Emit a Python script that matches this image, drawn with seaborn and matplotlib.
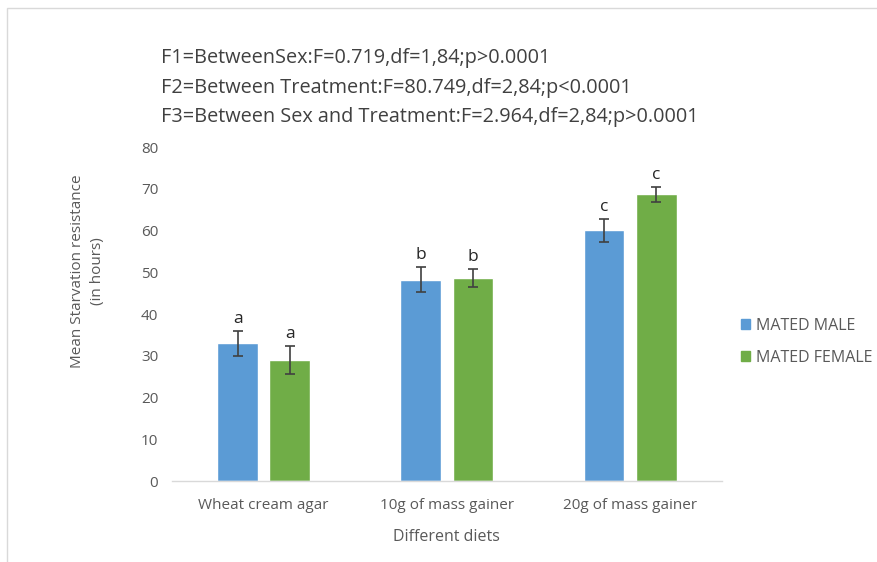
import pandas as pd
import matplotlib.pyplot as plt
import matplotlib.patches as mpatches
import seaborn as sns

# values
diets = ["Wheat cream agar", "10g of mass gainer", "20g of mass gainer"]
groups = ["MATED MALE", "MATED FEMALE"]
male_mean = [33.0, 48.3, 60.1]
female_mean = [29.0, 48.7, 68.7]
male_err = [3.0, 2.9, 2.7]
female_err = [3.3, 2.1, 1.8]
male_letters = ["a", "b", "c"]
female_letters = ["a", "b", "c"]

stats_lines = [
    "F1=BetweenSex:F=0.719,df=1,84;p>0.0001",
    "F2=Between Treatment:F=80.749,df=2,84;p<0.0001",
    "F3=Between Sex and Treatment:F=2.964,df=2,84;p>0.0001",
]

df = pd.DataFrame({
    "diet": diets * 2,
    "group": [groups[0]] * 3 + [groups[1]] * 3,
    "mean": male_mean + female_mean,
    "err": male_err + female_err,
    "letter": male_letters + female_letters,
})

sns.set_style("white")
plt.rcParams["font.family"] = ["Open Sans", "DejaVu Sans"]

fig = plt.figure(figsize=(8.78, 5.62), dpi=100)
ax = fig.add_axes([0.196, 0.144, 0.626, 0.594])

palette = {groups[0]: "#5B9BD5", groups[1]: "#70AD47"}
sns.barplot(data=df, x="diet", y="mean", hue="group", order=diets, hue_order=groups,
            palette=palette, width=0.57, gap=0.22, saturation=1, errorbar=None, ax=ax)

# error bars and letters on top of each bar
bars = [p for p in ax.patches if p.get_height() > 0]
for i, g in enumerate(groups):
    sub = df[df["group"] == g].set_index("diet").loc[diets]
    for j, d in enumerate(diets):
        b = bars[i * 3 + j]
        xc = b.get_x() + b.get_width() / 2
        m, e = sub.loc[d, "mean"], sub.loc[d, "err"]
        ax.errorbar(xc, m, yerr=e, fmt="none", ecolor="#404040", elinewidth=1.2, capsize=3.5, capthick=1.2)
        ax.text(xc, m + e + 1.0, sub.loc[d, "letter"], ha="center", va="bottom",
                fontsize=12.5, color="#262626")

ax.set_ylim(0, 80)
ax.set_yticks(range(0, 81, 10))
ax.set_xlim(-0.5, 2.5)
ax.set_xlabel("Different diets", fontsize=11.5, color="#595959", labelpad=12)
ax.set_ylabel("Mean Starvation resistance\n(in hours)", fontsize=11, color="#595959", linespacing=1.5)
ax.yaxis.set_label_coords(-0.122, 0.63)
ax.tick_params(axis="both", labelsize=11, colors="#595959", length=0)
ax.tick_params(axis="x", pad=12)
ax.tick_params(axis="y", pad=10)
for s in ["top", "right", "left"]:
    ax.spines[s].set_visible(False)
ax.spines["bottom"].set_color("#D9D9D9")
ax.spines["bottom"].set_linewidth(1)

ax.legend().remove()
handles = [mpatches.Patch(color=palette[g], label=g) for g in groups]
fig.legend(handles=handles, loc="upper left", bbox_to_anchor=(0.828, 0.46), frameon=False,
           fontsize=11.5, labelcolor="#595959", handlelength=0.55, handleheight=0.55,
           handletextpad=0.35, labelspacing=1.0)

for k, line in enumerate(stats_lines):
    fig.text(0.183, 1 - (58 + 29.5 * k) / 562, line, fontsize=14.3, color="#404040", va="center")

fig.patches.append(mpatches.Rectangle((7 / 878, -0.1), 1.1, 1 - 8 / 562 + 0.1, transform=fig.transFigure,
                                      fill=False, edgecolor="#D9D9D9", linewidth=1))

fig.savefig("out.png", dpi=100)
